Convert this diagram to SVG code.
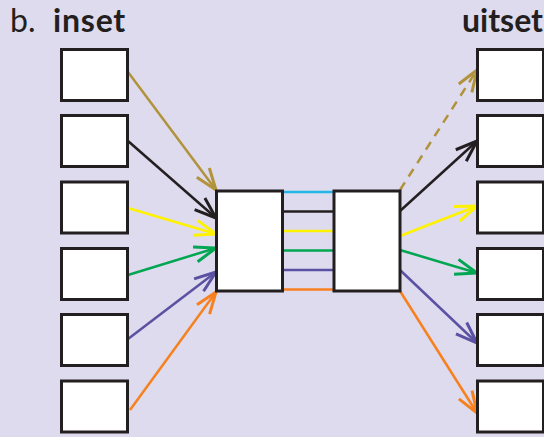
<svg xmlns="http://www.w3.org/2000/svg" width="544" height="437" viewBox="0 0 544 437">
<style>
.bx{fill:#fff;stroke:#231f20;stroke-width:3}
.ln{fill:none;stroke-width:2.5}
.t{font-family:Lato,"Liberation Sans",sans-serif;font-size:32px;fill:#231f20}
.b{font-weight:bold}
</style>
<defs>
<marker id="aO" markerUnits="userSpaceOnUse" markerWidth="30" markerHeight="30" refX="0" refY="0" viewBox="-20 -10 25 20" orient="auto" overflow="visible"><path d="M-18,-6.5 L0,0 L-18,6.5" fill="none" stroke="#b0933a" stroke-width="2.5"/></marker>
<marker id="aK" markerUnits="userSpaceOnUse" markerWidth="30" markerHeight="30" refX="0" refY="0" viewBox="-20 -10 25 20" orient="auto" overflow="visible"><path d="M-18,-6.5 L0,0 L-18,6.5" fill="none" stroke="#231f20" stroke-width="2.5"/></marker>
<marker id="aY" markerUnits="userSpaceOnUse" markerWidth="30" markerHeight="30" refX="0" refY="0" viewBox="-20 -10 25 20" orient="auto" overflow="visible"><path d="M-18,-6.5 L0,0 L-18,6.5" fill="none" stroke="#fff200" stroke-width="2.5"/></marker>
<marker id="aG" markerUnits="userSpaceOnUse" markerWidth="30" markerHeight="30" refX="0" refY="0" viewBox="-20 -10 25 20" orient="auto" overflow="visible"><path d="M-18,-6.5 L0,0 L-18,6.5" fill="none" stroke="#00a651" stroke-width="2.5"/></marker>
<marker id="aP" markerUnits="userSpaceOnUse" markerWidth="30" markerHeight="30" refX="0" refY="0" viewBox="-20 -10 25 20" orient="auto" overflow="visible"><path d="M-18,-6.5 L0,0 L-18,6.5" fill="none" stroke="#5b51a2" stroke-width="2.5"/></marker>
<marker id="aR" markerUnits="userSpaceOnUse" markerWidth="30" markerHeight="30" refX="0" refY="0" viewBox="-20 -10 25 20" orient="auto" overflow="visible"><path d="M-18,-6.5 L0,0 L-18,6.5" fill="none" stroke="#f7811f" stroke-width="2.5"/></marker>
</defs>
<rect width="544" height="437" fill="#dedbee"/>
<text class="t" x="10" y="31.5">b.</text>
<text class="t b" x="53" y="31.5" letter-spacing="0.8">inset</text>
<text class="t b" x="543" y="31.5" text-anchor="end">uitset</text>
<g id="connectors">
<line class="ln" x1="128" y1="72" x2="216" y2="190" stroke="#b0933a" marker-end="url(#aO)"/>
<line class="ln" x1="128" y1="141" x2="216" y2="218" stroke="#231f20" marker-end="url(#aK)"/>
<line class="ln" x1="128" y1="208" x2="216" y2="234" stroke="#fff200" marker-end="url(#aY)"/>
<line class="ln" x1="128" y1="275" x2="216" y2="248" stroke="#00a651" marker-end="url(#aG)"/>
<line class="ln" x1="128" y1="339" x2="216" y2="272" stroke="#5b51a2" marker-end="url(#aP)"/>
<line class="ln" x1="130" y1="410" x2="216" y2="292" stroke="#f7811f" marker-end="url(#aR)"/>
<line class="ln" x1="284" y1="192" x2="334" y2="192" stroke="#22b5e6"/>
<line class="ln" x1="284" y1="211.5" x2="334" y2="211.5" stroke="#231f20"/>
<line class="ln" x1="284" y1="231" x2="334" y2="231" stroke="#fff200"/>
<line class="ln" x1="284" y1="250.5" x2="334" y2="250.5" stroke="#00a651"/>
<line class="ln" x1="284" y1="270" x2="334" y2="270" stroke="#5b51a2"/>
<line class="ln" x1="284" y1="289.5" x2="334" y2="289.5" stroke="#f7811f"/>
<line class="ln" x1="400" y1="190" x2="477" y2="70" stroke="#b0933a" stroke-dasharray="9,7" marker-end="url(#aO)"/>
<line class="ln" x1="400" y1="211" x2="477" y2="141" stroke="#231f20" marker-end="url(#aK)"/>
<line class="ln" x1="400" y1="236" x2="477" y2="206" stroke="#fff200" marker-end="url(#aY)"/>
<line class="ln" x1="400" y1="250" x2="477" y2="273" stroke="#00a651" marker-end="url(#aG)"/>
<line class="ln" x1="400" y1="270" x2="477" y2="343" stroke="#5b51a2" marker-end="url(#aP)"/>
<line class="ln" x1="400" y1="291" x2="477" y2="413" stroke="#f7811f" marker-end="url(#aR)"/>
</g>
<g id="in1"><rect class="bx" x="61.5" y="49.5" width="66" height="51"/></g>
<g id="in2"><rect class="bx" x="61.5" y="115.5" width="66" height="51"/></g>
<g id="in3"><rect class="bx" x="61.5" y="182" width="66" height="51"/></g>
<g id="in4"><rect class="bx" x="61.5" y="248.5" width="66" height="51"/></g>
<g id="in5"><rect class="bx" x="61.5" y="314.5" width="66" height="51"/></g>
<g id="in6"><rect class="bx" x="61.5" y="381" width="66" height="51"/></g>
<g id="mid1"><rect class="bx" x="216.5" y="191" width="66" height="100"/></g>
<g id="mid2"><rect class="bx" x="334" y="191" width="66" height="100"/></g>
<g id="out1"><rect class="bx" x="477.5" y="49.5" width="66" height="51"/></g>
<g id="out2"><rect class="bx" x="477.5" y="115.5" width="66" height="51"/></g>
<g id="out3"><rect class="bx" x="477.5" y="182" width="66" height="51"/></g>
<g id="out4"><rect class="bx" x="477.5" y="248.5" width="66" height="51"/></g>
<g id="out5"><rect class="bx" x="477.5" y="314.5" width="66" height="51"/></g>
<g id="out6"><rect class="bx" x="477.5" y="381" width="66" height="51"/></g>
</svg>
